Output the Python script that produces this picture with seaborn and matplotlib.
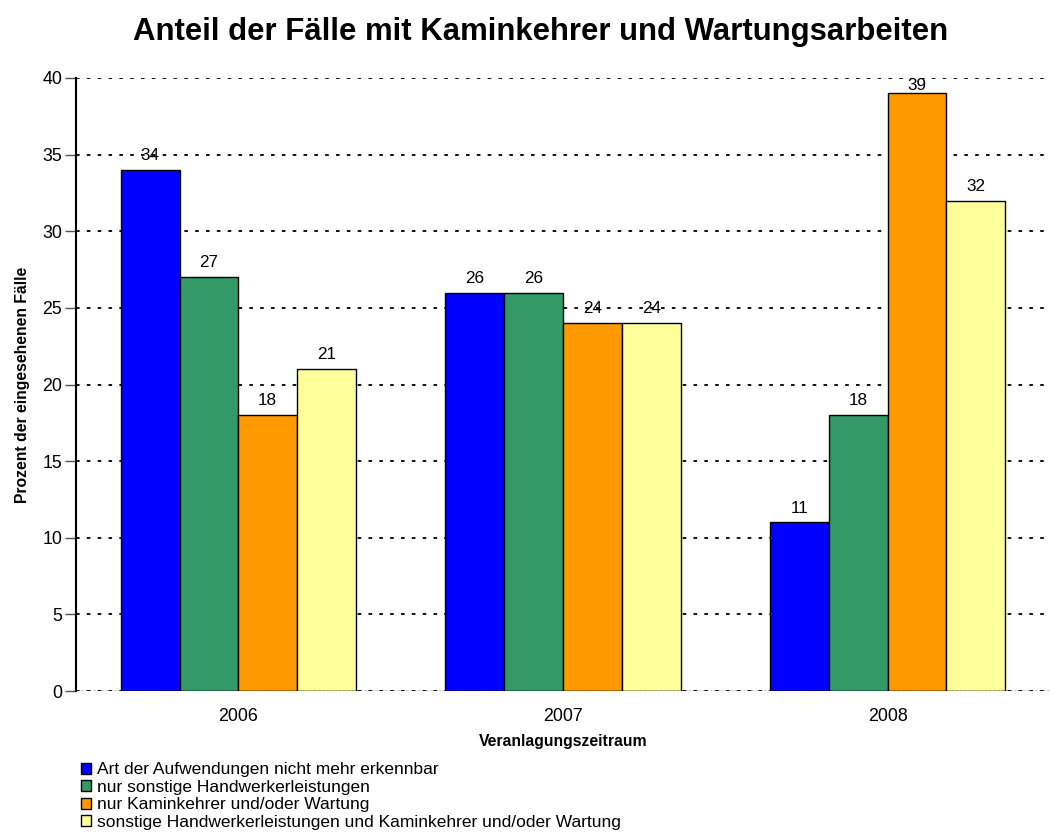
import numpy as np
import pandas as pd
import matplotlib
matplotlib.use("Agg")
import matplotlib.pyplot as plt
import seaborn as sns

# Daten
jahre = ["2006", "2007", "2008"]
kategorien = [
    "Art der Aufwendungen nicht mehr erkennbar",
    "nur sonstige Handwerkerleistungen",
    "nur Kaminkehrer und/oder Wartung",
    "sonstige Handwerkerleistungen und Kaminkehrer und/oder Wartung",
]
werte_art = [34, 26, 11]
werte_sonstige = [27, 26, 18]
werte_kamin = [18, 24, 39]
werte_beide = [21, 24, 32]
farben = ["#0000FF", "#339966", "#FF9900", "#FFFF99"]

df = pd.DataFrame({
    "jahr": jahre * 4,
    "kategorie": [k for k in kategorien for _ in jahre],
    "wert": werte_art + werte_sonstige + werte_kamin + werte_beide,
})

sns.set_style("white")
plt.rcParams["font.family"] = ["Liberation Sans", "DejaVu Sans"]
plt.rcParams["text.color"] = "black"
plt.rcParams["axes.labelcolor"] = "black"
plt.rcParams["xtick.color"] = "black"
plt.rcParams["ytick.color"] = "black"

fig = plt.figure(figsize=(10.5, 8.36), dpi=100)
ax = fig.add_axes([0.0724, 0.1734, 0.9276, 0.7333])

sns.barplot(data=df, x="jahr", y="wert", hue="kategorie", hue_order=kategorien,
            palette=farben, width=0.724, edgecolor="black", linewidth=1,
            saturation=1, ax=ax, legend=True)

ymax = 40
for cont in ax.containers:
    texts = ax.bar_label(cont, fmt="%d", padding=5, fontsize=12.3)
    # Beschriftung nahe der Obergrenze innerhalb der Achse halten
    for t, bar in zip(texts, cont):
        if bar.get_height() > ymax - 2:
            t.xyann = (0, 0)

ax.set_ylim(0, ymax)
ax.set_xlim(-0.5, 2.5)
ax.set_yticks(range(0, 41, 5))
ax.yaxis.grid(True, linestyle=(0, (2, 4)), color="black", linewidth=1.3)
ax.set_axisbelow(True)
for s in ["top", "right", "bottom"]:
    ax.spines[s].set_visible(False)
ax.spines["left"].set_linewidth(1.5)
ax.spines["left"].set_color("black")
ax.axhline(0, color="black", linewidth=1, linestyle=(0, (2, 1)))

ax.set_xticks([-0.5, 0.5, 1.5, 2.5], minor=True)
ax.tick_params(axis="x", which="major", length=0, pad=12, labelsize=12.8)
ax.tick_params(axis="x", which="minor", length=8, width=1, color="#555555", direction="out")
ax.tick_params(axis="y", length=8, width=1, color="#555555", direction="out",
               labelsize=12.8, pad=2, labelcolor="black")
ax.tick_params(left=True, bottom=True)

ax.set_xlabel("Veranlagungszeitraum", fontweight="bold", fontsize=11.3, labelpad=7)
ax.set_ylabel("Prozent der eingesehenen Fälle", fontweight="bold", fontsize=11.3, labelpad=9)
fig.suptitle("Anteil der Fälle mit Kaminkehrer und Wartungsarbeiten",
             fontweight="bold", fontsize=22.4, x=0.515, y=0.98)

leg = ax.legend(loc="upper left", bbox_to_anchor=(-0.002, -0.105), frameon=False,
                fontsize=12.5, handlelength=0.6, handleheight=0.6, handletextpad=0.3,
                labelspacing=0.14, borderaxespad=0)
for h in leg.legend_handles:
    h.set_edgecolor("black")

fig.savefig("out.png", dpi=100)
